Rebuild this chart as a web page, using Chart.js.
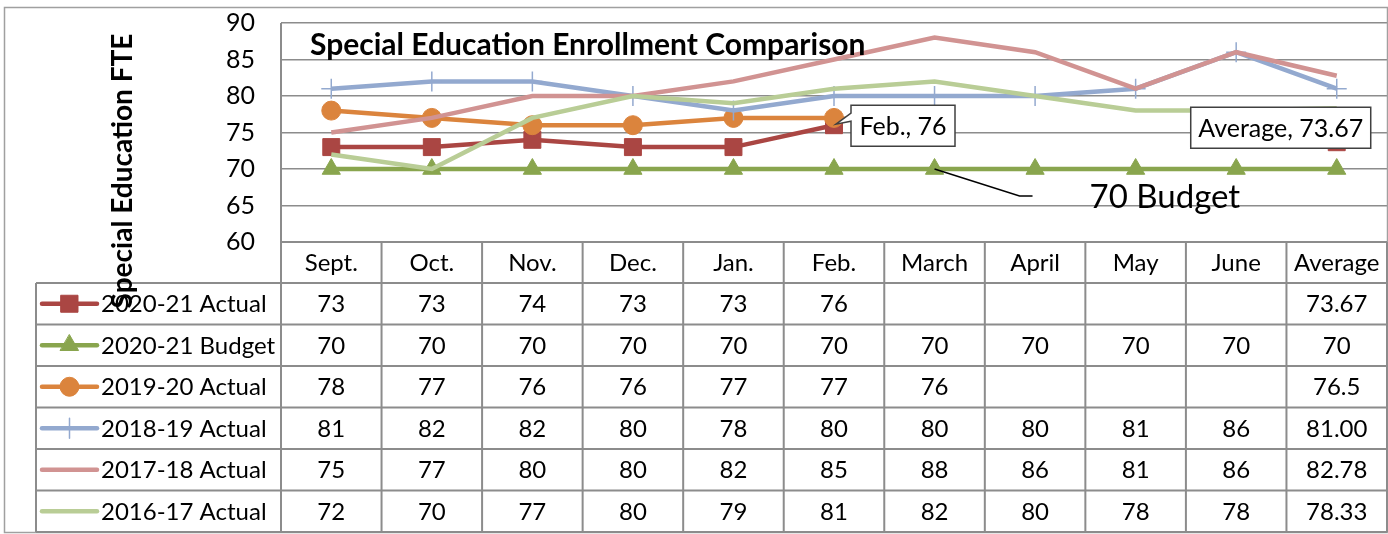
<!DOCTYPE html>
<html>
<head>
<meta charset="utf-8">
<script src="https://cdn.jsdelivr.net/npm/chart.js@4.4.1/dist/chart.umd.min.js"></script>
<style>
  html, body { margin: 0; padding: 0; background: #fff; }
  canvas { display: block; }
</style>
</head>
<body>
<canvas id="enrollChart" width="1388" height="534"></canvas>
<script>
// Données du graphique
const months = ['Sept.', 'Oct.', 'Nov.', 'Dec.', 'Jan.', 'Feb.', 'March', 'April', 'May', 'June', 'Average'];
const seriesNames = ['2020-21 Actual', '2020-21 Budget', '2019-20 Actual', '2018-19 Actual', '2017-18 Actual', '2016-17 Actual'];
const actual2021 = [73, 73, 74, 73, 73, 76, null, null, null, null, 73.67];
const budget2021 = [70, 70, 70, 70, 70, 70, 70, 70, 70, 70, 70];
const actual1920 = [78, 77, 76, 76, 77, 77, 76, null, null, null, 76.5];
const actual1819 = [81, 82, 82, 80, 78, 80, 80, 80, 81, 86, 81.00];
const actual1718 = [75, 77, 80, 80, 82, 85, 88, 86, 81, 86, 82.78];
const actual1617 = [72, 70, 77, 80, 79, 81, 82, 80, 78, 78, 78.33];
const averageLabels = ['73.67', '70', '76.5', '81.00', '82.78', '78.33'];
const yMin = 60;
const yMax = 90;
const yStep = 5;

const FONT = 'Lato, "Open Sans", sans-serif';
const GRID = '#8c8c8c';

const seriesValues = [actual2021, budget2021, actual1920, actual1819, actual1718, actual1617];
const seriesStyles = [
    { color: '#aa4643', pointStyle: 'rect', radius: 12 },
    { color: '#89a54e', pointStyle: 'triangle', radius: 10.5 },
    { color: '#db843d', pointStyle: 'circle', radius: 9.5 },
    { color: '#93a9cf', pointStyle: 'cross', radius: 10 },
    { color: '#d19392', pointStyle: false, radius: 0 },
    { color: '#b9cd96', pointStyle: false, radius: 0 },
];

const datasets = seriesValues.map((values, i) => ({
    label: seriesNames[i],
    data: values,
    borderColor: seriesStyles[i].color,
    backgroundColor: seriesStyles[i].color,
    borderWidth: 4.5,
    pointStyle: seriesStyles[i].pointStyle,
    pointRadius: seriesStyles[i].radius,
    pointBorderWidth: seriesStyles[i].pointStyle === 'cross' ? 1.5 : 1,
    pointBorderColor: seriesStyles[i].color,
    pointBackgroundColor: seriesStyles[i].color,
    tension: 0,
    spanGaps: false,
    // Excel dessine la dernière série au-dessus
    order: seriesValues.length - i,
}));

function formatCell(v) {
    return v === null ? '' : String(v);
}

function drawKey(ctx, style, x1, x2, y) {
    ctx.save();
    ctx.strokeStyle = style.color;
    ctx.fillStyle = style.color;
    ctx.lineWidth = 4.5;
    ctx.lineCap = 'round';
    ctx.beginPath();
    ctx.moveTo(x1, y);
    ctx.lineTo(x2, y);
    ctx.stroke();
    if (style.pointStyle) {
        ctx.lineWidth = style.pointStyle === 'cross' ? 1.5 : 1;
        Chart.helpers.drawPoint(ctx, {
            pointStyle: style.pointStyle,
            radius: style.radius,
            rotation: 0,
            borderWidth: ctx.lineWidth,
        }, (x1 + x2) / 2, y);
    }
    ctx.restore();
}

function drawCallout(ctx, left, top, w, h, text, tip) {
    ctx.save();
    ctx.fillStyle = '#fff';
    ctx.strokeStyle = '#404040';
    ctx.lineWidth = 1.5;
    ctx.beginPath();
    ctx.moveTo(left, top);
    ctx.lineTo(left + w, top);
    ctx.lineTo(left + w, top + h);
    ctx.lineTo(left, top + h);
    if (tip) {
        ctx.lineTo(left, top + 16);
        ctx.lineTo(tip.x, tip.y);
        ctx.lineTo(left, top + 8);
    }
    ctx.closePath();
    ctx.fill();
    ctx.stroke();
    ctx.fillStyle = '#000';
    ctx.font = '25px ' + FONT;
    ctx.textAlign = 'center';
    ctx.textBaseline = 'middle';
    ctx.fillText(text, left + w / 2, top + h / 2 + 1);
    ctx.restore();
}

const annotationsPlugin = {
    id: 'annotations',
    afterDatasetsDraw(chart) {
        const ctx = chart.ctx;
        const area = chart.chartArea;

        // Titre
        ctx.save();
        ctx.fillStyle = '#000';
        ctx.font = 'bold 30px ' + FONT;
        ctx.textAlign = 'left';
        ctx.textBaseline = 'middle';
        ctx.fillText('Special Education Enrollment Comparison', area.left + 29, 45);
        ctx.restore();

        // Ligne de budget avec son étiquette
        const budgetPt = chart.getDatasetMeta(1).data[6];
        ctx.save();
        ctx.strokeStyle = '#000';
        ctx.lineWidth = 1.5;
        ctx.beginPath();
        ctx.moveTo(budgetPt.x, budgetPt.y);
        ctx.lineTo(budgetPt.x + 85, budgetPt.y + 27);
        ctx.lineTo(budgetPt.x + 98, budgetPt.y + 27);
        ctx.stroke();
        ctx.fillStyle = '#000';
        ctx.font = '33px ' + FONT;
        ctx.textAlign = 'left';
        ctx.textBaseline = 'middle';
        ctx.fillText(budget2021[6] + ' Budget', budgetPt.x + 155, budgetPt.y + 28);
        ctx.restore();

        // Étiquettes de données
        const febPt = chart.getDatasetMeta(0).data[5];
        drawCallout(ctx, febPt.x + 17, febPt.y - 20, 104, 41,
            months[5] + ', ' + actual2021[5], { x: febPt.x + 2, y: febPt.y - 1 });
        const avgPt = chart.getDatasetMeta(0).data[10];
        drawCallout(ctx, avgPt.x - 146, avgPt.y - 35, 180, 41,
            months[10] + ', ' + averageLabels[0], null);
    },
    afterDraw(chart) {
        const ctx = chart.ctx;
        const area = chart.chartArea;
        const xScale = chart.scales.x;
        const band = (area.right - area.left) / months.length;
        const legendLeft = 36;
        const headerH = 41;
        const rowH = 41.5;
        const tableTop = area.bottom;
        const bodyTop = tableTop + headerH;
        const tableBottom = bodyTop + rowH * seriesNames.length;

        ctx.save();

        // Bordure extérieure
        ctx.strokeStyle = '#a0a0a0';
        ctx.lineWidth = 1.5;
        ctx.strokeRect(4.5, 7.5, 1383, 525);

        ctx.strokeStyle = GRID;
        ctx.lineWidth = 2;
        ctx.beginPath();
        // lignes horizontales
        ctx.moveTo(area.left, tableTop);
        ctx.lineTo(area.right, tableTop);
        for (let r = 0; r <= seriesNames.length; r++) {
            const y = bodyTop + r * rowH;
            ctx.moveTo(legendLeft, y);
            ctx.lineTo(area.right, y);
        }
        // lignes verticales
        ctx.moveTo(legendLeft, bodyTop);
        ctx.lineTo(legendLeft, tableBottom);
        ctx.moveTo(area.left, area.top);
        ctx.lineTo(area.left, tableBottom);
        for (let c = 1; c <= months.length; c++) {
            const x = area.left + c * band;
            ctx.moveTo(x, tableTop);
            ctx.lineTo(x, tableBottom);
        }
        ctx.stroke();

        // En-têtes et valeurs
        ctx.fillStyle = '#000';
        ctx.font = '24px ' + FONT;
        ctx.textAlign = 'center';
        ctx.textBaseline = 'middle';
        months.forEach((m, c) => {
            ctx.fillText(m, xScale.getPixelForValue(c), tableTop + headerH / 2 + 1);
        });
        seriesValues.forEach((values, r) => {
            const y = bodyTop + r * rowH + rowH / 2 + 1;
            values.forEach((v, c) => {
                const txt = c === months.length - 1 ? averageLabels[r] : formatCell(v);
                ctx.fillText(txt, xScale.getPixelForValue(c), y);
            });
        });

        // Légende dans le tableau
        ctx.textAlign = 'left';
        seriesNames.forEach((name, r) => {
            const y = bodyTop + r * rowH + rowH / 2;
            drawKey(ctx, seriesStyles[r], 42, 97, y);
            ctx.fillStyle = '#000';
            ctx.fillText(name, 101, y + 1);
        });

        // Titre de l'axe Y (déborde sur le tableau comme dans l'original)
        ctx.translate(123, 171);
        ctx.rotate(-Math.PI / 2);
        ctx.font = 'bold 28px ' + FONT;
        ctx.textAlign = 'center';
        ctx.fillText('Special Education FTE', 0, 0);
        ctx.restore();
    }
};

new Chart(document.getElementById('enrollChart'), {
    type: 'line',
    data: { labels: months, datasets: datasets },
    options: {
        responsive: false,
        animation: false,
        devicePixelRatio: 1,
        layout: { autoPadding: false, padding: { top: 23, bottom: 292, left: 0, right: 1 } },
        plugins: {
            legend: { display: false },
            tooltip: { enabled: false },
            title: { display: false },
        },
        scales: {
            x: {
                type: 'category',
                offset: true,
                display: false,
            },
            y: {
                min: yMin,
                max: yMax,
                afterFit(scale) {
                    scale.width = 281;
                    scale.paddingTop = 0;
                    scale.paddingBottom = 0;
                },
                border: { display: false },
                grid: { color: GRID, lineWidth: 1.5, drawTicks: false },
                ticks: {
                    stepSize: yStep,
                    padding: 26,
                    color: '#000',
                    font: { family: FONT, size: 25 },
                },
            },
        },
    },
    plugins: [annotationsPlugin],
});
</script>
</body>
</html>
